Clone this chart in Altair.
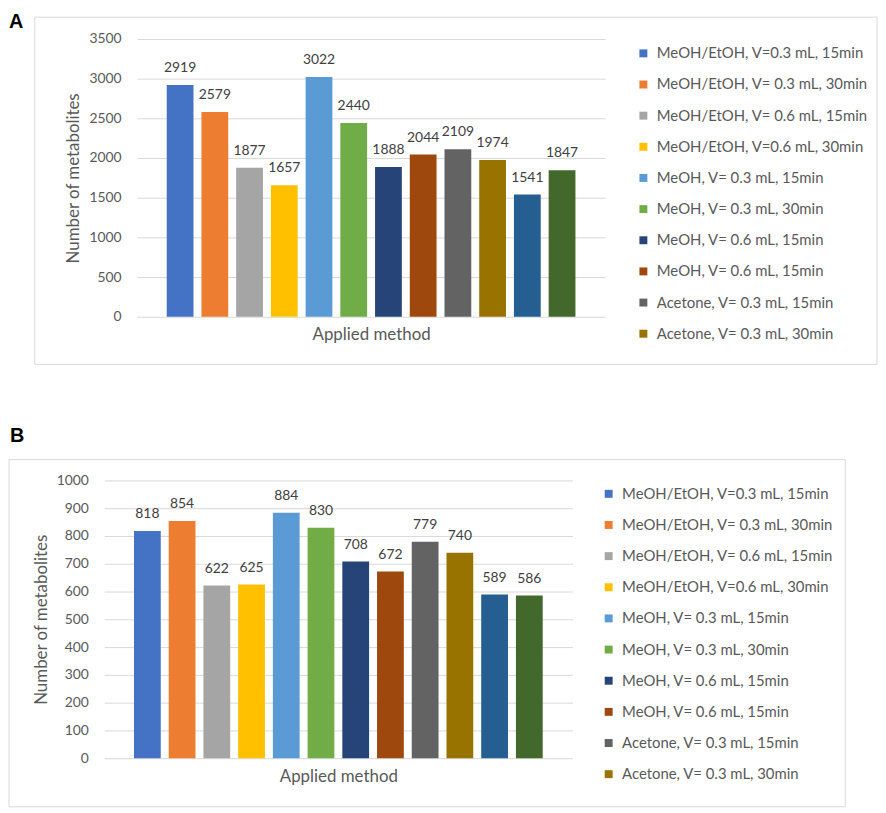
import altair as alt
import pandas as pd

# ---- data ----
methods = [
    "MeOH/EtOH, V=0.3 mL, 15min",
    "MeOH/EtOH, V= 0.3 mL, 30min",
    "MeOH/EtOH, V= 0.6 mL, 15min",
    "MeOH/EtOH, V=0.6 mL, 30min",
    "MeOH, V= 0.3 mL, 15min",
    "MeOH, V= 0.3 mL, 30min",
    "MeOH, V= 0.6 mL, 15min",
    "MeOH, V= 0.6 mL, 15min",
    "Acetone, V= 0.3 mL, 15min",
    "Acetone, V= 0.3 mL, 30min",
    "Acetone, V= 0.6 mL, 15min",
    "Acetone, V= 0.6 mL, 30min",
]
colors = ["#4472C4", "#ED7D31", "#A5A5A5", "#FFC000", "#5B9BD5", "#70AD47",
          "#264478", "#9E480E", "#636363", "#997300", "#255E91", "#43682B"]
values_a = [2919, 2579, 1877, 1657, 3022, 2440, 1888, 2044, 2109, 1974, 1541, 1847]
values_b = [818, 854, 622, 625, 884, 830, 708, 672, 779, 740, 589, 586]
ticks_a = [0, 500, 1000, 1500, 2000, 2500, 3000, 3500]
ticks_b = [0, 100, 200, 300, 400, 500, 600, 700, 800, 900, 1000]
legend_count = 10

keys = [f"{i + 1:02d}|{m}" for i, m in enumerate(methods)]

FONT = "Lato"
GRID = "#D9D9D9"
TXT = "#595959"
W, H = 472, 280


def panel(values, ticks, letter, letter_x, letter_y, box, shift, legend_x, legend_y):
    df = pd.DataFrame({"key": keys, "value": values})
    base = alt.Chart(df)
    x = alt.X(
        "key:N", sort=keys,
        scale=alt.Scale(domain=keys, range=[-shift, W - shift],
                        paddingInner=0.229, paddingOuter=0.857),
        axis=alt.Axis(title="Applied method", labels=False, ticks=False, domain=False, grid=False,
                      titleFont=FONT, titleFontSize=17, titleFontWeight="normal",
                      titleColor=TXT, titlePadding=10),
    )
    y = alt.Y(
        "value:Q",
        scale=alt.Scale(domain=[ticks[0], ticks[-1]], nice=False),
        axis=alt.Axis(title="Number of metabolites", values=ticks, format="d", domain=False,
                      ticks=False, tickSize=0, grid=True, gridColor=GRID, gridWidth=1,
                      labelFont=FONT, labelFontSize=14, labelColor=TXT, labelPadding=16 + shift,
                      titleFont=FONT, titleFontSize=17, titleFontWeight="normal",
                      titleColor=TXT, titlePadding=6),
    )
    color = alt.Color(
        "key:N", sort=keys,
        scale=alt.Scale(domain=keys, range=colors),
        legend=alt.Legend(title=None, values=keys[:legend_count], orient="none",
                          legendX=legend_x, legendY=legend_y, direction="vertical",
                          symbolType="square", symbolSize=64, symbolStrokeWidth=0,
                          labelFont=FONT, labelFontSize=15, labelColor=TXT, labelLimit=400,
                          labelOffset=6, rowPadding=15.4, padding=0,
                          labelExpr="split(datum.label, '|')[1]"),
    )
    one = alt.Chart(pd.DataFrame({"k": [0]}))
    border = one.mark_rect(fill="white", fillOpacity=0, stroke=GRID, strokeWidth=1).encode(
        x=alt.value(box[0]), x2=alt.value(box[1]), y=alt.value(box[2]), y2=alt.value(box[3]))
    tag = one.mark_text(text=letter, font="Liberation Sans", fontWeight="bold", fontSize=20,
                        align="left", baseline="alphabetic", color="black").encode(
        x=alt.value(letter_x), y=alt.value(letter_y))
    bars = base.mark_bar().encode(x=x, y=y, color=color)
    labels = base.mark_text(dy=-13, baseline="alphabetic", align="center", font=FONT,
                            fontSize=14, color="#404040").encode(x=x, y=y, text="value:Q")
    return alt.layer(border, tag, bars, labels).properties(width=W, height=H)


pa = panel(values_a, ticks_a, "A", -129, -11, (-103, 746, -22, 328), 0, 503, 7)
pb = panel(values_b, ticks_b, "B", -128, -39, (-129, 714, -21, 329), 33, 468, 6)

chart = (
    alt.concat(pa, pb, columns=1, spacing=60)
    .resolve_scale(color="independent", x="independent", y="independent")
    .resolve_legend(color="independent")
    .properties(padding=0)
    .configure_view(stroke="transparent")
)
chart.save("out.html", embed_options={"renderer": "svg", "actions": False})
